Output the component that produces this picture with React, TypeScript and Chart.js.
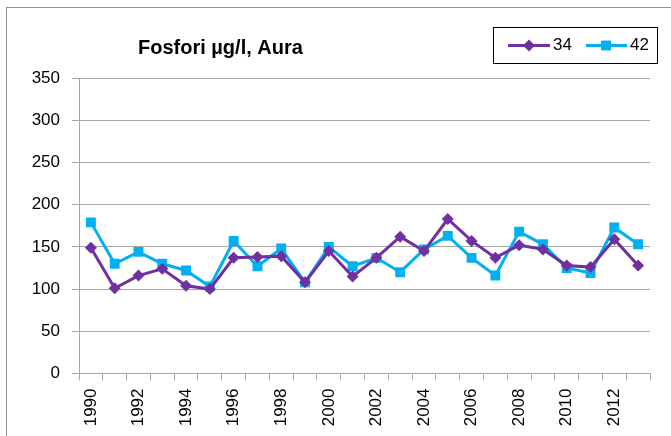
import React, { useEffect, useRef } from "react";
import { Chart, registerables } from "chart.js";

Chart.register(...registerables);

const years: string[] = [
  "1990", "1991", "1992", "1993", "1994", "1995", "1996", "1997", "1998", "1999",
  "2000", "2001", "2002", "2003", "2004", "2005", "2006", "2007", "2008", "2009",
  "2010", "2011", "2012", "2013",
];
const series34: number[] = [
  149, 101, 116, 124, 104, 100, 137, 138, 139, 108,
  145, 115, 137, 162, 145, 183, 157, 137, 152, 147,
  128, 126, 159, 128,
];
const series42: number[] = [
  179, 130, 144, 130, 122, 103, 157, 127, 148, 108,
  150, 127, 137, 120, 147, 163, 137, 116, 168, 153,
  125, 119, 173, 153,
];
const yTicks: number[] = [0, 50, 100, 150, 200, 250, 300, 350];
const titleText = "Fosfori µg/l, Aura";
const name34 = "34";
const name42 = "42";

const PURPLE = "#7030a0";
const BLUE = "#00b0f0";
const GRID = "#a6a6a6";
const FONT = "'Liberation Sans', Arial, sans-serif";

const overlayPlugin = {
  id: "overlay",
  afterDraw(chart: any) {
    const ctx = chart.ctx as CanvasRenderingContext2D;
    ctx.save();
    // title
    ctx.fillStyle = "#000";
    ctx.font = `bold 20px ${FONT}`;
    ctx.textAlign = "left";
    ctx.textBaseline = "alphabetic";
    ctx.fillText(titleText, 138, 54);

    // legend box
    ctx.strokeStyle = "#000";
    ctx.lineWidth = 1;
    ctx.strokeRect(493.5, 27.5, 164, 36);
    const ly = 45.5;
    const items = [
      { x0: 508, x1: 550, cx: 529, tx: 553, color: PURPLE, style: "rectRot", r: 6, label: chart.data.datasets[0].label },
      { x0: 586, x1: 627, cx: 606, tx: 630, color: BLUE, style: "rect", r: 7, label: chart.data.datasets[1].label },
    ];
    for (const it of items) {
      ctx.strokeStyle = it.color;
      ctx.lineWidth = 3;
      ctx.beginPath();
      ctx.moveTo(it.x0, ly);
      ctx.lineTo(it.x1, ly);
      ctx.stroke();
      ctx.fillStyle = it.color;
      ctx.beginPath();
      if (it.style === "rect") {
        const s = it.r * Math.SQRT1_2;
        ctx.rect(it.cx - s, ly - s, 2 * s, 2 * s);
      } else {
        ctx.moveTo(it.cx, ly - it.r);
        ctx.lineTo(it.cx + it.r, ly);
        ctx.lineTo(it.cx, ly + it.r);
        ctx.lineTo(it.cx - it.r, ly);
        ctx.closePath();
      }
      ctx.fill();
      ctx.fillStyle = "#000";
      ctx.font = `17px ${FONT}`;
      ctx.textBaseline = "middle";
      ctx.fillText(it.label, it.tx, ly);
    }
    ctx.restore();
  },
};

export default function App() {
  const ref = useRef<HTMLCanvasElement | null>(null);

  useEffect(() => {
    if (!ref.current) return;
    const chart = new Chart(ref.current, {
      type: "line",
      data: {
        labels: years,
        datasets: [
          {
            label: name34,
            data: series34,
            borderColor: PURPLE,
            backgroundColor: PURPLE,
            borderWidth: 3,
            pointStyle: "rectRot",
            pointRadius: 6,
            pointBorderWidth: 0,
            pointBackgroundColor: PURPLE,
            tension: 0,
          },
          {
            label: name42,
            data: series42,
            borderColor: BLUE,
            backgroundColor: BLUE,
            borderWidth: 3,
            pointStyle: "rect",
            pointRadius: 7,
            pointBorderWidth: 0,
            pointBackgroundColor: BLUE,
            tension: 0,
          },
        ],
      },
      options: {
        responsive: false,
        animation: false,
        layout: { padding: { top: 78, right: 21, left: 0, bottom: 0 } },
        plugins: {
          legend: { display: false },
          title: { display: false },
          tooltip: { enabled: false },
        },
        scales: {
          x: {
            offset: true,
            grid: {
              offset: true,
              drawOnChartArea: false,
              tickLength: 7,
              color: GRID,
            },
            border: { color: GRID, width: 1 },
            ticks: {
              autoSkip: false,
              maxRotation: 90,
              minRotation: 90,
              padding: 8,
              color: "#000",
              font: { family: FONT, size: 17 },
              callback: (_v: any, i: number) => (i % 2 === 0 ? years[i] : ""),
            },
            afterFit: (s: any) => {
              s.height = 62.5;
            },
          },
          y: {
            min: yTicks[0],
            max: yTicks[yTicks.length - 1],
            afterBuildTicks: (s: any) => {
              s.ticks = yTicks.map((v) => ({ value: v }));
            },
            grid: { color: GRID, tickLength: 7 },
            border: { color: GRID, width: 1 },
            ticks: {
              padding: 12,
              color: "#000",
              font: { family: FONT, size: 17 },
            },
            afterFit: (s: any) => {
              s.width = 79;
            },
          },
        },
      },
      plugins: [overlayPlugin],
    });
    return () => chart.destroy();
  }, []);

  return (
    <div
      style={{
        position: "fixed",
        left: 0,
        top: 0,
        width: 671,
        height: 436,
        overflow: "hidden",
        background: "#fff",
      }}
    >
      <div
        style={{
          position: "absolute",
          left: 6,
          top: 7,
          width: 700,
          height: 500,
          border: "1px solid #8c8c8c",
        }}
      />
      <canvas
        ref={ref}
        width={671}
        height={436}
        style={{ position: "absolute", left: 0, top: 0, width: 671, height: 436 }}
      />
    </div>
  );
}
